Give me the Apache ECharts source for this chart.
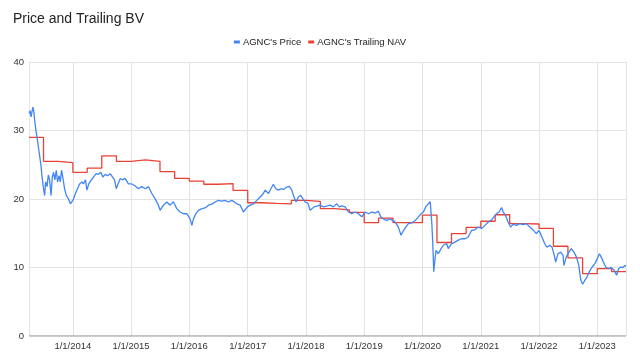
<!DOCTYPE html>
<html><head><meta charset="utf-8">
<script src="https://cdn.jsdelivr.net/npm/echarts@6/dist/echarts.min.js"></script>
<style>html,body{margin:0;padding:0;background:#fff}#c{width:640px;height:361px}</style>
</head><body><div id="c"></div>
<script>
const chartTitle = "Price and Trailing BV";
const seriesNames = ["AGNC's Price", "AGNC's Trailing NAV"];
const yTicks = [0, 10, 20, 30, 40];

const priceDates = [
"2013-04-01","2013-04-08","2013-04-14","2013-04-25","2013-05-01","2013-05-08","2013-05-16","2013-05-27","2013-06-06","2013-06-15","2013-06-23",
"2013-07-01","2013-07-08","2013-07-14","2013-07-23","2013-07-31","2013-08-08","2013-08-17","2013-08-25","2013-09-02","2013-09-10","2013-09-19","2013-09-27",
"2013-10-06","2013-10-14","2013-10-22","2013-10-31","2013-11-10","2013-11-21","2013-12-05","2013-12-16","2013-12-26",
"2014-01-05","2014-01-17","2014-01-30","2014-02-12","2014-02-27","2014-03-08","2014-03-21","2014-03-30","2014-04-11","2014-04-24","2014-05-10","2014-05-27",
"2014-06-10","2014-06-25","2014-07-08","2014-07-22","2014-08-06","2014-08-23","2014-09-07","2014-09-19","2014-09-30","2014-10-13","2014-10-25","2014-11-07",
"2014-11-24","2014-12-15","2015-01-05","2015-01-26","2015-02-16","2015-03-09","2015-03-30","2015-04-20","2015-05-11","2015-05-31","2015-06-21","2015-07-02",
"2015-07-22","2015-08-13","2015-09-02","2015-09-23","2015-10-14","2015-11-04","2015-11-25","2015-12-16","2016-01-06","2016-01-17","2016-01-27","2016-02-11",
"2016-02-27","2016-03-19","2016-04-09","2016-04-30","2016-05-21","2016-06-10","2016-07-01","2016-07-22","2016-08-12","2016-09-02","2016-09-23","2016-10-04",
"2016-10-25","2016-11-15","2016-12-05","2016-12-16","2016-12-30","2017-01-16","2017-02-06","2017-02-27","2017-03-20","2017-04-09","2017-04-20","2017-05-11",
"2017-05-26","2017-06-11","2017-06-26","2017-07-12","2017-07-27","2017-08-13","2017-09-03","2017-09-19","2017-10-04","2017-10-18","2017-10-31","2017-11-14",
"2017-11-29","2017-12-12","2017-12-27","2018-01-13","2018-01-27","2018-02-07","2018-02-21","2018-03-10","2018-03-31","2018-04-20","2018-05-11","2018-06-01",
"2018-06-22","2018-07-13","2018-07-29","2018-08-13","2018-09-03","2018-09-24","2018-10-15","2018-11-05","2018-11-26","2018-12-17","2019-01-07","2019-01-28",
"2019-02-18","2019-03-11","2019-03-31","2019-04-15","2019-05-01","2019-05-23","2019-06-06","2019-06-23","2019-07-14","2019-08-03","2019-08-20","2019-09-04",
"2019-09-19","2019-10-05","2019-10-26","2019-11-16","2019-12-07","2019-12-24","2020-01-07","2020-01-22","2020-02-07","2020-02-19","2020-02-29","2020-03-06",
"2020-03-12","2020-03-21","2020-03-27","2020-04-10","2020-04-27","2020-05-11","2020-06-01","2020-06-11","2020-07-02","2020-07-23","2020-08-13","2020-09-03",
"2020-09-24","2020-10-14","2020-11-04","2020-11-25","2020-12-16","2021-01-06","2021-01-27","2021-02-17","2021-03-10","2021-03-24","2021-04-10","2021-04-26",
"2021-05-11","2021-05-21","2021-06-05","2021-06-21","2021-07-06","2021-07-22","2021-08-13","2021-09-02","2021-09-23","2021-10-14","2021-11-04","2021-11-24",
"2021-12-15","2022-01-01","2022-01-19","2022-02-05","2022-02-19","2022-03-08","2022-03-23","2022-04-04","2022-04-15","2022-04-29","2022-05-16","2022-05-31",
"2022-06-06","2022-06-21","2022-07-07","2022-07-22","2022-08-08","2022-08-23","2022-09-07","2022-09-20","2022-10-01","2022-10-15","2022-10-28","2022-11-11",
"2022-11-30","2022-12-17","2023-01-01","2023-01-14","2023-01-25","2023-02-08","2023-02-23","2023-03-11","2023-03-28","2023-04-17","2023-05-02","2023-05-16",
"2023-05-29","2023-06-11","2023-06-23","2023-06-30"
];
const priceValues = [
32.5,32.9,32.0,33.4,32.8,31.2,29.8,28.1,26.4,24.9,23.0,
21.5,20.5,22.5,21.8,23.5,22.8,20.5,23.2,23.9,22.8,24.2,22.5,
23.4,22.5,24.2,23.0,21.5,20.5,20.0,19.3,19.6,
20.0,20.8,21.5,22.2,22.5,22.2,22.8,21.3,22.2,22.7,23.2,23.7,
23.6,23.9,23.2,23.6,23.4,23.7,23.2,22.8,21.5,22.3,23.0,22.8,
23.0,22.2,22.2,21.9,21.5,21.8,21.5,21.8,20.8,20.05,19.1,18.35,
19.1,19.56,19.1,19.6,18.6,18.1,17.85,17.85,17.1,16.15,17.1,17.85,
18.35,18.6,18.7,19.1,19.25,19.56,19.8,19.7,19.8,19.56,19.8,19.8,
19.3,19.1,18.1,17.85,18.85,19.1,19.3,19.8,20.3,20.8,21.3,20.8,
21.5,22.15,21.5,21.3,21.5,21.4,21.75,21.85,21.3,20.3,19.56,20.3,
20.55,20.05,19.56,19.4,18.35,18.6,18.85,18.95,19.1,18.85,18.95,19.1,
18.85,19.3,18.85,19.0,18.85,18.1,17.85,18.1,17.85,17.4,18.1,17.85,
18.1,17.95,18.2,17.4,17.1,16.85,17.1,16.95,16.65,15.9,14.7,15.4,
15.9,16.4,16.5,16.85,17.4,17.85,18.1,18.85,19.3,19.6,16.4,13.5,
9.4,11.5,12.5,12.0,12.75,13.25,13.5,12.75,13.5,13.7,14.0,14.2,
14.2,14.45,15.4,15.5,15.9,15.7,16.15,16.65,16.95,17.4,17.85,18.1,
18.75,18.1,17.6,16.65,15.9,16.3,16.15,16.4,16.25,16.4,15.9,15.5,
14.95,15.4,14.45,13.5,12.95,13.25,13.0,12.0,10.8,12.0,12.25,11.8,
10.3,11.55,12.25,12.75,12.25,11.55,10.3,8.13,7.55,8.13,8.6,9.35,
10.07,10.57,11.3,12.0,11.55,10.8,10.07,9.85,10.0,9.6,8.86,9.85,
10.07,10.0,10.3,10.2
];

const navDates = [
"2013-04-01","2013-07-01","2013-10-01","2014-01-01","2014-04-01","2014-07-01","2014-10-01","2015-01-01","2015-04-01","2015-07-01","2015-10-01",
"2016-01-01","2016-04-01","2016-07-01","2016-10-01","2017-01-01","2017-04-01","2017-07-01","2017-10-01","2018-01-01","2018-04-01","2018-07-01",
"2018-10-01","2019-01-01","2019-04-01","2019-07-01","2019-10-01","2020-01-01","2020-04-01","2020-07-01","2020-10-01","2021-01-01","2021-04-01",
"2021-07-01","2021-10-01","2022-01-01","2022-04-01","2022-07-01","2022-10-01","2023-01-01","2023-04-01","2023-06-30"
];
const navValues = [
29.0,25.5,25.3,23.9,24.5,26.3,25.5,25.7,25.5,24.0,23.0,
22.6,22.15,22.25,21.25,19.45,19.35,19.3,19.8,19.65,18.6,18.4,
18.05,16.55,17.2,16.55,16.55,17.65,13.65,14.95,15.85,16.75,17.7,
16.4,16.35,15.7,13.1,11.4,9.1,9.85,9.4,9.4
];

const priceData = priceDates.map((d, i) => [d, priceValues[i]]);
const navData = navDates.map((d, i) => [d, navValues[i]]);

const FONT = "Liberation Sans, Arial, sans-serif";
const chart = echarts.init(document.getElementById('c'), null, {renderer: 'canvas'});
chart.setOption({
  animation: false,
  backgroundColor: '#ffffff',
  title: {
    text: chartTitle, left: 8, top: 7,
    textStyle: {fontFamily: FONT, fontSize: 14, fontWeight: 'normal', color: '#222'}
  },
  legend: {
    top: 32, left: 'center',
    itemWidth: 6, itemHeight: 3, itemGap: 7,
    textStyle: {fontFamily: FONT, fontSize: 9.5, color: '#222', padding: [0,0,0,-2]},
    data: [
      {name: seriesNames[0], icon: 'rect'},
      {name: seriesNames[1], icon: 'rect'}
    ]
  },
  grid: {left: 29, right: 14, top: 62, bottom: 25, containLabel: false, outerBoundsMode: 'none'},
  xAxis: {
    type: 'time',
    min: '2013-04-01', max: '2023-06-30',
    minInterval: 365 * 86400000, maxInterval: 366 * 86400000,
    axisLine: {show: false},
    axisTick: {show: false},
    axisLabel: {
      fontFamily: FONT, fontSize: 9.5, color: '#333', margin: 5,
      showMinLabel: false, showMaxLabel: false,
      formatter: function (v) { const d = new Date(v); return (d.getMonth() + 1) + '/' + d.getDate() + '/' + d.getFullYear(); }
    },
    splitLine: {show: true, lineStyle: {color: '#e3e3e3', width: 1}}
  },
  yAxis: {
    type: 'value', min: yTicks[0], max: yTicks[yTicks.length - 1], interval: 10,
    axisLine: {show: false}, axisTick: {show: false},
    axisLabel: {fontFamily: FONT, fontSize: 9.5, color: '#333', margin: 5},
    splitLine: {lineStyle: {color: '#e3e3e3', width: 1}}
  },
  series: [
    {
      name: seriesNames[0], type: 'line', data: priceData, showSymbol: false, symbol: 'none',
      lineStyle: {color: '#4285F4', width: 1.3}, itemStyle: {color: '#4285F4'}, z: 3
    },
    {
      name: seriesNames[1], type: 'line', data: navData, step: 'end', showSymbol: false, symbol: 'none',
      lineStyle: {color: '#EA4335', width: 1.3}, itemStyle: {color: '#EA4335'}, z: 2
    },
    {
      type: 'line', data: [['2013-04-01', 0], ['2023-06-30', 0]], silent: true, symbol: 'none',
      lineStyle: {color: '#888', width: 1}, z: 1, tooltip: {show: false}
    }
  ]
});
</script></body></html>
